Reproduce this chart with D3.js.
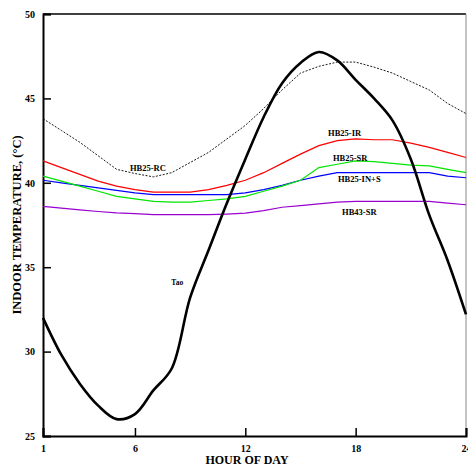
<!DOCTYPE html>
<html>
<head>
<meta charset="utf-8">
<script src="https://cdn.jsdelivr.net/npm/d3@7"></script>
<style>
  html, body { margin: 0; padding: 0; background: #fff; overflow: hidden; }
  svg { display: block; }
  svg text { font-family: "Liberation Serif", "DejaVu Serif", serif; font-weight: bold; fill: #000; }
</style>
</head>
<body>
<div id="chart"></div>
<script>
// Hours of the day
const hours = d3.range(1, 25);

// Indoor temperatures (deg C) read per hour
const tao    = [32.0, 29.8, 28.1, 26.8, 26.0, 26.3, 27.7, 29.0, 33.2, 36.0, 38.8, 41.4, 43.9, 45.9, 47.1, 47.75, 47.25, 46.1, 45.0, 43.7, 41.4, 38.1, 35.4, 32.2];
const hb25RC = [43.8, 43.1, 42.4, 41.6, 40.8, 40.55, 40.35, 40.6, 41.2, 41.8, 42.6, 43.4, 44.4, 45.5, 46.5, 46.9, 47.15, 47.15, 46.85, 46.5, 46.0, 45.5, 44.7, 44.1];
const hb25IR = [41.3, 40.9, 40.5, 40.1, 39.8, 39.6, 39.45, 39.45, 39.45, 39.6, 39.85, 40.15, 40.6, 41.15, 41.7, 42.2, 42.5, 42.6, 42.55, 42.55, 42.35, 42.1, 41.8, 41.5];
const hb25SR = [40.4, 40.1, 39.8, 39.5, 39.2, 39.05, 38.9, 38.85, 38.85, 38.95, 39.05, 39.2, 39.5, 39.8, 40.15, 40.9, 41.1, 41.3, 41.25, 41.15, 41.05, 41.0, 40.8, 40.6];
const hb25INS = [40.15, 40.0, 39.85, 39.7, 39.55, 39.4, 39.3, 39.3, 39.3, 39.3, 39.3, 39.4, 39.6, 39.85, 40.15, 40.4, 40.6, 40.6, 40.6, 40.6, 40.6, 40.6, 40.4, 40.3];
const hb43SR = [38.6, 38.5, 38.4, 38.3, 38.22, 38.17, 38.12, 38.12, 38.12, 38.12, 38.15, 38.2, 38.35, 38.55, 38.65, 38.75, 38.85, 38.9, 38.9, 38.9, 38.9, 38.9, 38.8, 38.7];

// Tick labels
const xTicks = [1, 6, 12, 18, 24];
const yTicks = [25, 30, 35, 40, 45, 50];

// Curve labels anchored at (hour, temperature)
const labelNames = ['HB25-RC', 'HB25-IR', 'HB25-SR', 'HB25-IN+S', 'HB43-SR', 'Tao'];
const labelHours = [6.7, 17.4, 17.7, 18.2, 18.2, 8.3];
const labelTemps = [40.7, 42.75, 41.3, 40.05, 38.1, 33.95];

const width = 468, height = 469;
const margin = { top: 14, right: 2, bottom: 33, left: 43 };
const innerWidth = width - margin.left - margin.right;
const innerHeight = height - margin.top - margin.bottom;

const x = d3.scaleLinear().domain([1, 24]).range([0, innerWidth]);
const y = d3.scaleLinear().domain([25, 50]).range([innerHeight, 0]);

const svg = d3.select('#chart').append('svg')
  .attr('width', width)
  .attr('height', height);

const g = svg.append('g')
  .attr('transform', `translate(${margin.left}, ${margin.top})`);

// Frame: top and right edges
g.append('line')
  .attr('x1', 0).attr('x2', innerWidth).attr('y1', 0).attr('y2', 0)
  .attr('stroke', '#000').attr('stroke-width', 1.5);
g.append('line')
  .attr('x1', innerWidth).attr('x2', innerWidth).attr('y1', 0).attr('y2', innerHeight)
  .attr('stroke', '#888').attr('stroke-width', 1);

// Axes with inward ticks
const xAxis = g.append('g')
  .attr('transform', `translate(0, ${innerHeight})`)
  .call(d3.axisTop(x).tickValues(xTicks).tickSize(8).tickFormat(d3.format('d')));
xAxis.select('.domain').attr('stroke-width', 2);
xAxis.selectAll('.tick line').attr('stroke-width', 1.5);
xAxis.selectAll('.tick text')
  .attr('y', 16).attr('dy', 0)
  .attr('font-size', 10);

const yAxis = g.append('g')
  .call(d3.axisRight(y).tickValues(yTicks).tickSize(8));
yAxis.select('.domain').attr('stroke-width', 2);
yAxis.selectAll('.tick line').attr('stroke-width', 1.5);
yAxis.selectAll('.tick text')
  .attr('x', -8).attr('text-anchor', 'end')
  .attr('font-size', 10);
svg.selectAll('.domain').attr('stroke', '#000');
svg.selectAll('.tick line').attr('stroke', '#000');

// Axis titles
svg.append('text')
  .attr('x', 247)
  .attr('y', 464)
  .attr('text-anchor', 'middle')
  .attr('font-size', 12)
  .text('HOUR OF DAY');
svg.append('text')
  .attr('transform', `translate(21, 225) rotate(-90)`)
  .attr('text-anchor', 'middle')
  .attr('font-size', 12.5)
  .text('INDOOR TEMPERATURE, (°C)');

// Series
const series = [
  { values: hb43SR, color: '#9a00d0', width: 1.2, dash: null, curve: d3.curveLinear },
  { values: hb25INS, color: '#0000ff', width: 1.2, dash: null, curve: d3.curveLinear },
  { values: hb25SR, color: '#00e600', width: 1.2, dash: null, curve: d3.curveLinear },
  { values: hb25IR, color: '#ff0000', width: 1.2, dash: null, curve: d3.curveLinear },
  { values: hb25RC, color: '#000', width: 0.9, dash: '2,1.5', curve: d3.curveLinear },
  { values: tao, color: '#000', width: 2.6, dash: null, curve: d3.curveCatmullRom }
];

series.forEach(s => {
  const line = d3.line()
    .x((d, i) => x(hours[i]))
    .y(d => y(d))
    .curve(s.curve);
  g.append('path')
    .datum(s.values)
    .attr('d', line)
    .attr('fill', 'none')
    .attr('stroke', s.color)
    .attr('stroke-width', s.width)
    .attr('stroke-dasharray', s.dash);
});

// Curve labels
g.selectAll('.curve-label')
  .data(labelNames)
  .join('text')
  .attr('class', 'curve-label')
  .attr('x', (d, i) => x(labelHours[i]))
  .attr('y', (d, i) => y(labelTemps[i]))
  .attr('text-anchor', 'middle')
  .attr('font-size', d => d === 'Tao' ? 7.5 : 8.5)
  .text(d => d);
</script>
</body>
</html>
